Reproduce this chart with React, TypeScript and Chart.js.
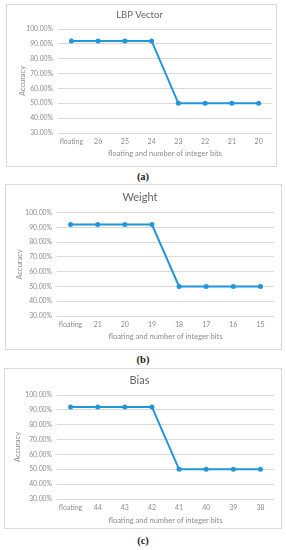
import React, { useEffect, useRef } from 'react';
import { Chart, registerables } from 'chart.js';

Chart.register(...registerables);

const categoriesA = ['floating', '26', '25', '24', '23', '22', '21', '20'];
const categoriesB = ['floating', '21', '20', '19', '18', '17', '16', '15'];
const categoriesC = ['floating', '44', '43', '42', '41', '40', '39', '38'];
const accuracyA = [92, 92, 92, 92, 50, 50, 50, 50];
const accuracyB = [92, 92, 92, 92, 50, 50, 50, 50];
const accuracyC = [92, 92, 92, 92, 50, 50, 50, 50];
const yMin = 30;
const yMax = 100;
const yStep = 10;
const xTitle = 'floating and number of integer bits';
const yTitle = 'Accuracy';

const FONT = 'Lato, "Open Sans", sans-serif';
const LINE = '#2196d8';
const GRID = '#d9d9d9';
const TICK = '#8c8c8c';
const TITLE = '#666666';

type Geo = {
  left: number; top: number; w: number; h: number;
  titleSize: number; titleTop: number; titleBottom: number;
  yWidth: number; right: number; xHeight: number;
  xPad: number; xTitleBottom: number; yTitleTop: number;
};

function LineChart({ title, labels, values, g }: { title: string; labels: string[]; values: number[]; g: Geo }) {
  const ref = useRef<HTMLCanvasElement | null>(null);
  useEffect(() => {
    if (!ref.current) return;
    const chart = new Chart(ref.current, {
      type: 'line',
      data: {
        labels,
        datasets: [{
          data: values,
          borderColor: LINE,
          backgroundColor: LINE,
          borderWidth: 2,
          pointRadius: 2.5,
          pointBackgroundColor: LINE,
          pointBorderWidth: 0,
          tension: 0,
        }],
      },
      options: {
        animation: false,
        responsive: false,
        maintainAspectRatio: false,
        layout: { padding: { left: 0, right: g.right, top: 0, bottom: 0 } },
        plugins: {
          legend: { display: false },
          tooltip: { enabled: false },
          title: {
            display: true,
            text: title,
            color: TITLE,
            font: { family: FONT, size: g.titleSize, weight: 'normal' },
            padding: { top: g.titleTop, bottom: g.titleBottom },
          },
        },
        scales: {
          x: {
            type: 'category',
            offset: true,
            grid: { display: false, drawTicks: false },
            border: { display: false },
            ticks: { color: TICK, font: { family: FONT, size: 7 }, padding: g.xPad, maxRotation: 0, autoSkip: false },
            title: {
              display: true, text: xTitle, color: TICK,
              font: { family: FONT, size: 7.5 },
              padding: { top: 0, bottom: g.xTitleBottom },
            },
            afterFit: (s: any) => { s.height = g.xHeight; },
          },
          y: {
            min: yMin,
            max: yMax,
            grid: { color: GRID, lineWidth: 1, drawTicks: false },
            border: { display: false },
            ticks: {
              stepSize: yStep,
              color: TICK,
              font: { family: FONT, size: 6.8 },
              padding: 5,
              callback: (v: any) => Number(v).toFixed(2) + '%',
            },
            title: {
              display: true, text: yTitle, color: TICK,
              font: { family: FONT, size: 7.5 },
              padding: { top: g.yTitleTop, bottom: 0 },
            },
            afterFit: (s: any) => { s.width = g.yWidth; },
          },
        },
      },
    });
    return () => chart.destroy();
  }, []);
  return (
    <div style={{ position: 'absolute', left: g.left, top: g.top, width: g.w, height: g.h, boxSizing: 'border-box', border: '1px solid #d9d9d9', background: '#fff' }}>
      <canvas ref={ref} width={g.w - 2} height={g.h - 2} style={{ display: 'block', width: g.w - 2, height: g.h - 2 }} />
    </div>
  );
}

function Caption({ text, top }: { text: string; top: number }) {
  return (
    <div style={{ position: 'absolute', left: 0, width: 286, top, textAlign: 'center', fontFamily: '"Liberation Serif", "DejaVu Serif", serif', fontWeight: 'bold', fontSize: 10.5, lineHeight: '12px', color: '#222' }}>
      {text}
    </div>
  );
}

const geoA: Geo = { left: 6, top: 4, w: 271, h: 163, titleSize: 9.5, titleTop: 4, titleBottom: 8.6, yWidth: 51, right: 4, xHeight: 33, xPad: 5, xTitleBottom: 7.5, yTitleTop: 11.5 };
const geoB: Geo = { left: 5, top: 184, w: 277, h: 166, titleSize: 11, titleTop: 5.4, titleBottom: 9.1, yWidth: 51, right: 7, xHeight: 33, xPad: 5, xTitleBottom: 7.5, yTitleTop: 9.5 };
const geoC: Geo = { left: 4, top: 368, w: 278, h: 161, titleSize: 11, titleTop: 4.4, titleBottom: 8.4, yWidth: 52, right: 7, xHeight: 29, xPad: 5, xTitleBottom: 3.2, yTitleTop: 8.5 };

export default function App() {
  return (
    <div style={{ position: 'fixed', left: 0, top: 0, width: 286, height: 550, background: '#fff', overflow: 'hidden' }}>
      <LineChart title="LBP Vector" labels={categoriesA} values={accuracyA} g={geoA} />
      <Caption text="(a)" top={171} />
      <LineChart title="Weight" labels={categoriesB} values={accuracyB} g={geoB} />
      <Caption text="(b)" top={354} />
      <LineChart title="Bias" labels={categoriesC} values={accuracyC} g={geoC} />
      <Caption text="(c)" top={535} />
    </div>
  );
}
